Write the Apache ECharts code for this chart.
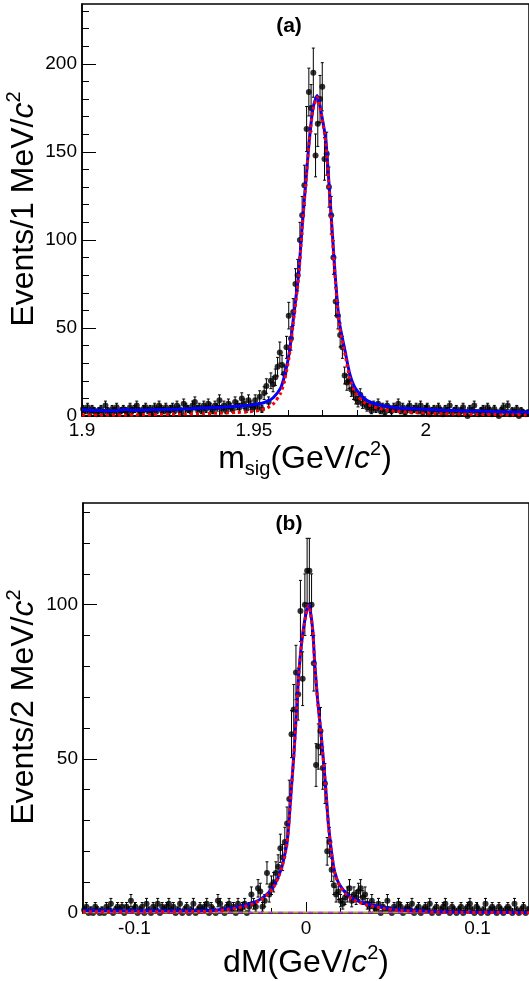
<!DOCTYPE html>
<html>
<head>
<meta charset="utf-8">
<script src="https://cdn.jsdelivr.net/npm/echarts@6/dist/echarts.min.js"></script>
<style>
  html, body { margin: 0; padding: 0; background: #fff; }
  #chart { width: 529px; height: 981px; }
</style>
</head>
<body>
<div id="chart"></div>
<script>
// ---- panel (a): m_sig, 200 bins from 1.9 to 2.03 ----
const binsA = { lo: 1.9, hi: 2.03, n: 200 };
const countsA = [
  4,3,5,2,4,3,1,3,4,2,6,3,2,4,3,5,2,3,4,3,
  2,5,3,4,6,3,2,4,5,3,4,2,5,3,6,4,3,5,2,4,
  5,3,6,4,2,7,5,4,3,6,8,4,5,3,6,4,7,5,3,6,
  5,9,4,6,3,7,5,4,8,6,5,10,7,4,9,6,
  5,9,5,11,4,13,17,8,20,18,22,28,
  36,29,24,39,57,44,59,75,80,100,114,131,163,184,175,195,148,166,180,187,
  146,149,130,114,90,65,57,46,39,23,19,20,15,13,
  10,8,12,7,8,5,6,3,
  6,4,7,3,5,2,6,4,3,5,4,7,3,5,2,4,6,3,4,5,
  3,6,2,4,5,1,3,4,2,5,3,1,4,3,6,2,3,4,1,3,
  5,2,0,4,3,6,2,1,3,4,
  2,5,3,1,4,2,0,3,5,2,6,1,3,2,4,0,3,2,1,2
];
const fitAx = [1.900,1.905,1.910,1.9125,1.915,1.920,1.925,1.930,1.935,1.940,
  1.945,1.948,1.9517,1.9540,1.9556,1.9578,1.9590,1.9602,1.9614,1.9630,
  1.9640,1.9651,1.9661,1.9672,1.9684,1.9696,1.9709,1.9718,1.9727,1.9736,
  1.9748,1.9767,1.9779,1.9794,1.9818,1.9837,1.986,1.990,1.995,2.000,
  2.005,2.010,2.015,2.020,2.025,2.030];
const totalA = [3.5,3.2,3.0,3.8,3.2,3.6,3.8,4.0,4.5,5.0,
  5.5,6.0,7.0,8.5,10.4,16,23.7,35,54,80.7,
  107,133,156.6,175,182,172,156.6,133,107,81,
  54,35,23.7,16,10.4,8,6.5,5,4.2,3.8,
  3.3,3.0,2.8,2.5,2.3,2.2];
const signalA = [0.5,0.5,0.6,0.6,0.6,0.8,0.9,1.1,1.3,1.6,
  2.0,2.3,3.2,4.8,6.8,13,21,33,52,79,
  106,132,156,174,181,171,155,131,105,79,
  52,33,21.5,13.5,8,6,4.5,3,2.2,1.6,
  1.3,1.1,0.9,0.8,0.7,0.6];
const xMajorA = [1.9, 1.95, 2];
const xMinorA = [1.91,1.92,1.93,1.94,1.96,1.97,1.98,1.99,2.01,2.02];
const yMajorA = [0, 50, 100, 150, 200];
const yMinorA = [10,20,30,40,60,70,80,90,110,120,130,140,160,170,180,190,210,220,230];

// ---- panel (b): dM, 200 bins from -0.13 to 0.13 ----
const binsB = { lo: -0.13, hi: 0.13, n: 200 };
const countsB = [
  1,2,0,1,0,2,1,0,1,0,2,1,3,0,1,2,1,2,0,2,
  1,4,1,2,0,1,2,0,3,1,0,2,1,3,0,2,1,2,3,1,
  2,0,1,3,0,1,2,0,1,3,0,1,2,1,2,3,0,2,1,0,
  4,3,1,0,2,3,1,2,0,3,1,2,3,0,2,
  6,3,2,8,7,2,4,13,6,9,10,13,15,21,18,23,29,37,58,66,78,71,98,76,100,111,111,100,81,
  48,54,59,47,42,20,23,14,9,6,7,4,3,5,6,8,4,6,5,7,8,5,6,3,2,4,
  2,1,3,0,2,1,4,1,0,2,1,3,2,0,1,2,1,3,0,1,
  2,0,1,2,1,3,0,1,2,0,1,2,3,1,0,2,1,0,1,2,
  0,1,2,3,1,0,2,1,0,1,3,0,1,2,1,0,2,1,0,1,
  2,1,0,3,1,0,1,2,0,1
];
const fitBx = [-0.13,-0.10,-0.08,-0.06,-0.052,-0.045,-0.036,-0.030,-0.0265,-0.022,
  -0.0187,-0.016,-0.0139,-0.012,-0.011,-0.010,-0.009,-0.007,-0.0052,-0.004,
  -0.0025,-0.001,0.0005,0.0015,0.0025,0.0039,0.0051,0.0068,0.0088,0.0113,
  0.0132,0.0161,0.018,0.020,0.024,0.0277,0.0355,0.045,0.055,0.07,
  0.09,0.13];
const totalB = [0.8,0.7,0.7,0.8,1.0,1.5,2.4,3.5,4.5,6.5,
  8.8,12,15.3,20,23,29,37,52,69,79,
  88,94,98.5,100,98,92,81,69,58,42,
  28,15,11,8.8,6,4.5,2.9,1.8,1.0,0.6,
  0.3,0.2];
const signalB = [0.4,0.4,0.4,0.5,0.7,1.2,2.1,3.2,4.2,6.2,
  8.5,11.7,15,19.7,22.7,28.7,36.7,51.7,68.7,78.7,
  87.7,93.7,98.2,99.7,97.7,91.7,80.7,68.7,57.7,41.7,
  27.7,14.7,10.7,8.5,5.7,4.2,2.6,1.5,0.8,0.4,
  0.2,0.1];
const bkgBx = [-0.13, 0.13];
const bkg1B = [0.15, 0.15];
const bkg2B = [0.15, 0.15];
const xMajorB = [-0.1, 0, 0.1];
const xMinorB = [-0.12,-0.08,-0.06,-0.04,-0.02,0.02,0.04,0.06,0.08,0.12];
const yMajorB = [0, 50, 100];
const yMinorB = [10,20,30,40,60,70,80,90,110,120,130];

const FONT = '"Liberation Sans", Arial, Helvetica, sans-serif';

function histPoints(bins, counts) {
  const w = (bins.hi - bins.lo) / bins.n;
  return counts.map((c, i) => [bins.lo + (i + 0.5) * w, c, Math.sqrt(c)]);
}
const zip = (xs, ys) => xs.map((x, i) => [x, ys[i]]);

function errorBar(params, api) {
  const x = api.value(0), y = api.value(1), e = api.value(2);
  if (!e) return null;
  const hi = api.coord([x, y + e]);
  const lo = api.coord([x, Math.max(y - e, 0)]);
  const cap = 1.5;
  const style = { stroke: '#000', lineWidth: 1 };
  return {
    type: 'group',
    children: [
      { type: 'line', shape: { x1: hi[0], y1: hi[1], x2: lo[0], y2: lo[1] }, style },
      { type: 'line', shape: { x1: hi[0] - cap, y1: hi[1], x2: hi[0] + cap, y2: hi[1] }, style },
      { type: 'line', shape: { x1: lo[0] - cap, y1: lo[1], x2: lo[0] + cap, y2: lo[1] }, style }
    ]
  };
}

const tickLabel = { color: '#000', fontFamily: FONT, fontSize: 19 };

function xAxes(gridIndex, bins, majors, minors, majLen, minLen, margin) {
  return [
    {
      type: 'value', gridIndex, position: 'bottom', min: bins.lo, max: bins.hi,
      axisLine: { show: true, onZero: false, lineStyle: { color: '#000', width: 1.5 } },
      axisTick: { show: true, inside: true, length: majLen, customValues: majors,
                  lineStyle: { color: '#000', width: 1 } },
      axisLabel: { show: true, customValues: majors, margin, ...tickLabel },
      splitLine: { show: false }
    },
    {
      type: 'value', gridIndex, position: 'bottom', min: bins.lo, max: bins.hi,
      axisLine: { show: false, onZero: false },
      axisTick: { show: true, inside: true, length: minLen, customValues: minors,
                  lineStyle: { color: '#000', width: 1 } },
      axisLabel: { show: false },
      splitLine: { show: false }
    }
  ];
}

function yAxes(gridIndex, max, majors, minors) {
  return [
    {
      type: 'value', gridIndex, position: 'left', min: 0, max,
      axisLine: { show: true, onZero: false, lineStyle: { color: '#000', width: 1.5 } },
      axisTick: { show: true, inside: true, length: 14, customValues: majors,
                  lineStyle: { color: '#000', width: 1 } },
      axisLabel: { show: true, customValues: majors, margin: 5, ...tickLabel },
      splitLine: { show: false }
    },
    {
      type: 'value', gridIndex, position: 'left', min: 0, max,
      axisLine: { show: false, onZero: false },
      axisTick: { show: true, inside: true, length: 7, customValues: minors,
                  lineStyle: { color: '#000', width: 1 } },
      axisLabel: { show: false },
      splitLine: { show: false }
    }
  ];
}

function panelSeries(xi, yi, points, fitX, total, signal) {
  return [
    {
      type: 'custom', xAxisIndex: xi, yAxisIndex: yi, renderItem: errorBar,
      data: points, encode: { x: 0, y: 1 }, clip: true, z: 2, silent: true
    },
    {
      type: 'scatter', xAxisIndex: xi, yAxisIndex: yi, data: points.map(p => [p[0], p[1]]),
      symbol: 'circle', symbolSize: 6, itemStyle: { color: '#000' }, z: 3, silent: true
    },
    {
      type: 'line', xAxisIndex: xi, yAxisIndex: yi, data: zip(fitX, total),
      showSymbol: false, smooth: 0.25, lineStyle: { color: '#0000ff', width: 3 }, z: 5, silent: true
    },
    {
      type: 'line', xAxisIndex: xi, yAxisIndex: yi, data: zip(fitX, signal),
      showSymbol: false, smooth: 0.25, lineStyle: { color: '#ff0000', width: 3, type: [3, 3] }, z: 6, silent: true
    }
  ];
}

const supText = (x, y, rot, parts) => ({
  type: 'text', x, y, rotation: rot,
  style: {
    text: parts, textAlign: 'center', textVerticalAlign: 'middle',
    fill: '#000', fontFamily: FONT, fontSize: 32,
    rich: {
      r: { fontFamily: FONT, fontSize: 32, lineHeight: 40, verticalAlign: 'middle' },
      i: { fontFamily: FONT, fontSize: 32, lineHeight: 40, fontStyle: 'italic', verticalAlign: 'middle' },
      s: { fontFamily: FONT, fontSize: 20, lineHeight: 20, verticalAlign: 'top' },
      d: { fontFamily: FONT, fontSize: 20, lineHeight: 16, verticalAlign: 'bottom' }
    }
  }
});

const panelTag = (x, y, text) => ({
  type: 'text', x, y,
  style: { text, textAlign: 'center', textVerticalAlign: 'middle',
           fill: '#000', fontFamily: FONT, fontSize: 21, fontWeight: 'bold' }
});

const option = {
  animation: false,
  backgroundColor: '#fff',
  grid: [
    { left: 82, top: 4, width: 451, height: 412, show: true, borderColor: '#000', borderWidth: 1.5 },
    { left: 83, top: 503, width: 448, height: 410, show: true, borderColor: '#000', borderWidth: 1.5 }
  ],
  xAxis: [
    ...xAxes(0, binsA, xMajorA, xMinorA, 12, 6, 5),
    ...xAxes(1, binsB, xMajorB, xMinorB, 11, 5, 6)
  ],
  yAxis: [
    ...yAxes(0, 234, yMajorA, yMinorA),
    ...yAxes(1, 133, yMajorB, yMinorB)
  ],
  series: [
    ...panelSeries(0, 0, histPoints(binsA, countsA), fitAx, totalA, signalA),
    {
      type: 'line', xAxisIndex: 2, yAxisIndex: 2, data: zip(bkgBx, bkg1B), showSymbol: false,
      lineStyle: { color: '#a8a84a', width: 2, type: [5, 5] }, z: 4, silent: true
    },
    {
      type: 'line', xAxisIndex: 2, yAxisIndex: 2, data: zip(bkgBx, bkg2B), showSymbol: false,
      lineStyle: { color: '#c040c0', width: 2, type: [5, 5], dashOffset: 5 }, z: 4, silent: true
    },
    ...panelSeries(2, 2, histPoints(binsB, countsB), fitBx, totalB, signalB)
  ],
  graphic: [
    panelTag(289, 26, '(a)'),
    panelTag(289, 524, '(b)'),
    supText(24, 209, Math.PI / 2, '{r|Events/1 MeV/}{i|c}{s|2}'),
    supText(24, 707, Math.PI / 2, '{r|Events/2 MeV/}{i|c}{s|2}'),
    supText(305, 459, 0, '{r|m}{d|sig}{r|(GeV/}{i|c}{s|2}{r|)}'),
    supText(306, 963, 0, '{r|dM(GeV/}{i|c}{s|2}{r|)}')
  ]
};

const chart = echarts.init(document.getElementById('chart'));
chart.setOption(option);
</script>
</body>
</html>
